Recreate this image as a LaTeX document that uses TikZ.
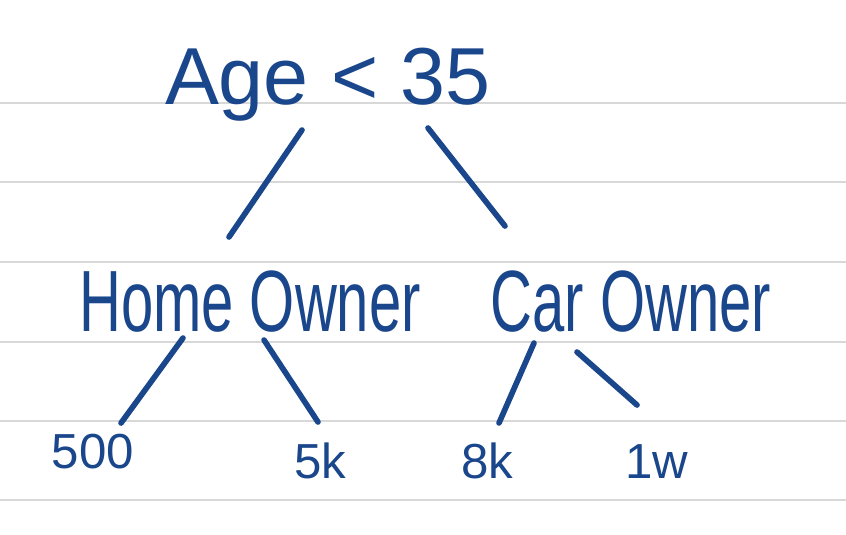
\documentclass[tikz,border=0pt]{standalone}
\usepackage{fontspec}
\setmainfont{Liberation Sans}
\usepackage{tikz}
\definecolor{inkblue}{RGB}{26,70,140}
\definecolor{ruleline}{RGB}{216,216,216}
\newcommand{\tallword}[1]{\scalebox{1}[1.5]{#1}}
\tikzset{
    labelnode/.style={
        anchor=base, text=inkblue, inner sep=2pt
    },
    splitnode/.style={
        labelnode, font=\fontsize{33}{38}\selectfont
    },
    leafnode/.style={
        labelnode, font=\fontsize{28}{32}\selectfont
    },
    branch/.style={
        draw=inkblue, line width=3.2pt, line cap=round
    },
    paperline/.style={
        draw=ruleline, line width=1.1pt
    }
}

\begin{document}
\begin{tikzpicture}[x=0.2mm, y=-0.2mm]
    \useasboundingbox (0,0) rectangle (846,534);
    \fill[white] (0,0) rectangle (846,534);
    % Ruled paper
    \foreach \y in {103,182,262,342,421,500} {
        \draw[paperline] (0,\y) -- (846,\y);
    }
    % Nodes
    \node[labelnode, font=\fontsize{46}{50}\selectfont] (root) at (328,104) {Age < 35};
    \node[splitnode] (home) at (250,331) {\tallword{Home Owner}};
    \node[splitnode] (car)  at (631,331) {\tallword{Car Owner}};
    \node[leafnode] (l500) at (93,468)  {500};
    \node[leafnode] (l5k)  at (320,478) {5k};
    \node[leafnode] (l8k)  at (487,478) {8k};
    \node[leafnode] (l1w)  at (657,478) {1w};
    % Branches from the root
    \draw[branch] ([shift={(-26,26)}]root.base) -- ([shift={(-21,-94)}]home.base);
    \draw[branch] ([shift={(100,24)}]root.base) -- ([shift={(-126,-105)}]car.base);
    % Branches to the leaves
    \draw[branch] ([shift={(-67,7)}]home.base) -- ([shift={(28,-45)}]l500.base);
    \draw[branch] ([shift={(14,9)}]home.base)  -- ([shift={(-2,-56)}]l5k.base);
    \draw[branch] ([shift={(-97,12)}]car.base) -- ([shift={(12,-55)}]l8k.base);
    \draw[branch] ([shift={(-54,21)}]car.base) -- ([shift={(-20,-73)}]l1w.base);
\end{tikzpicture}
\end{document}
